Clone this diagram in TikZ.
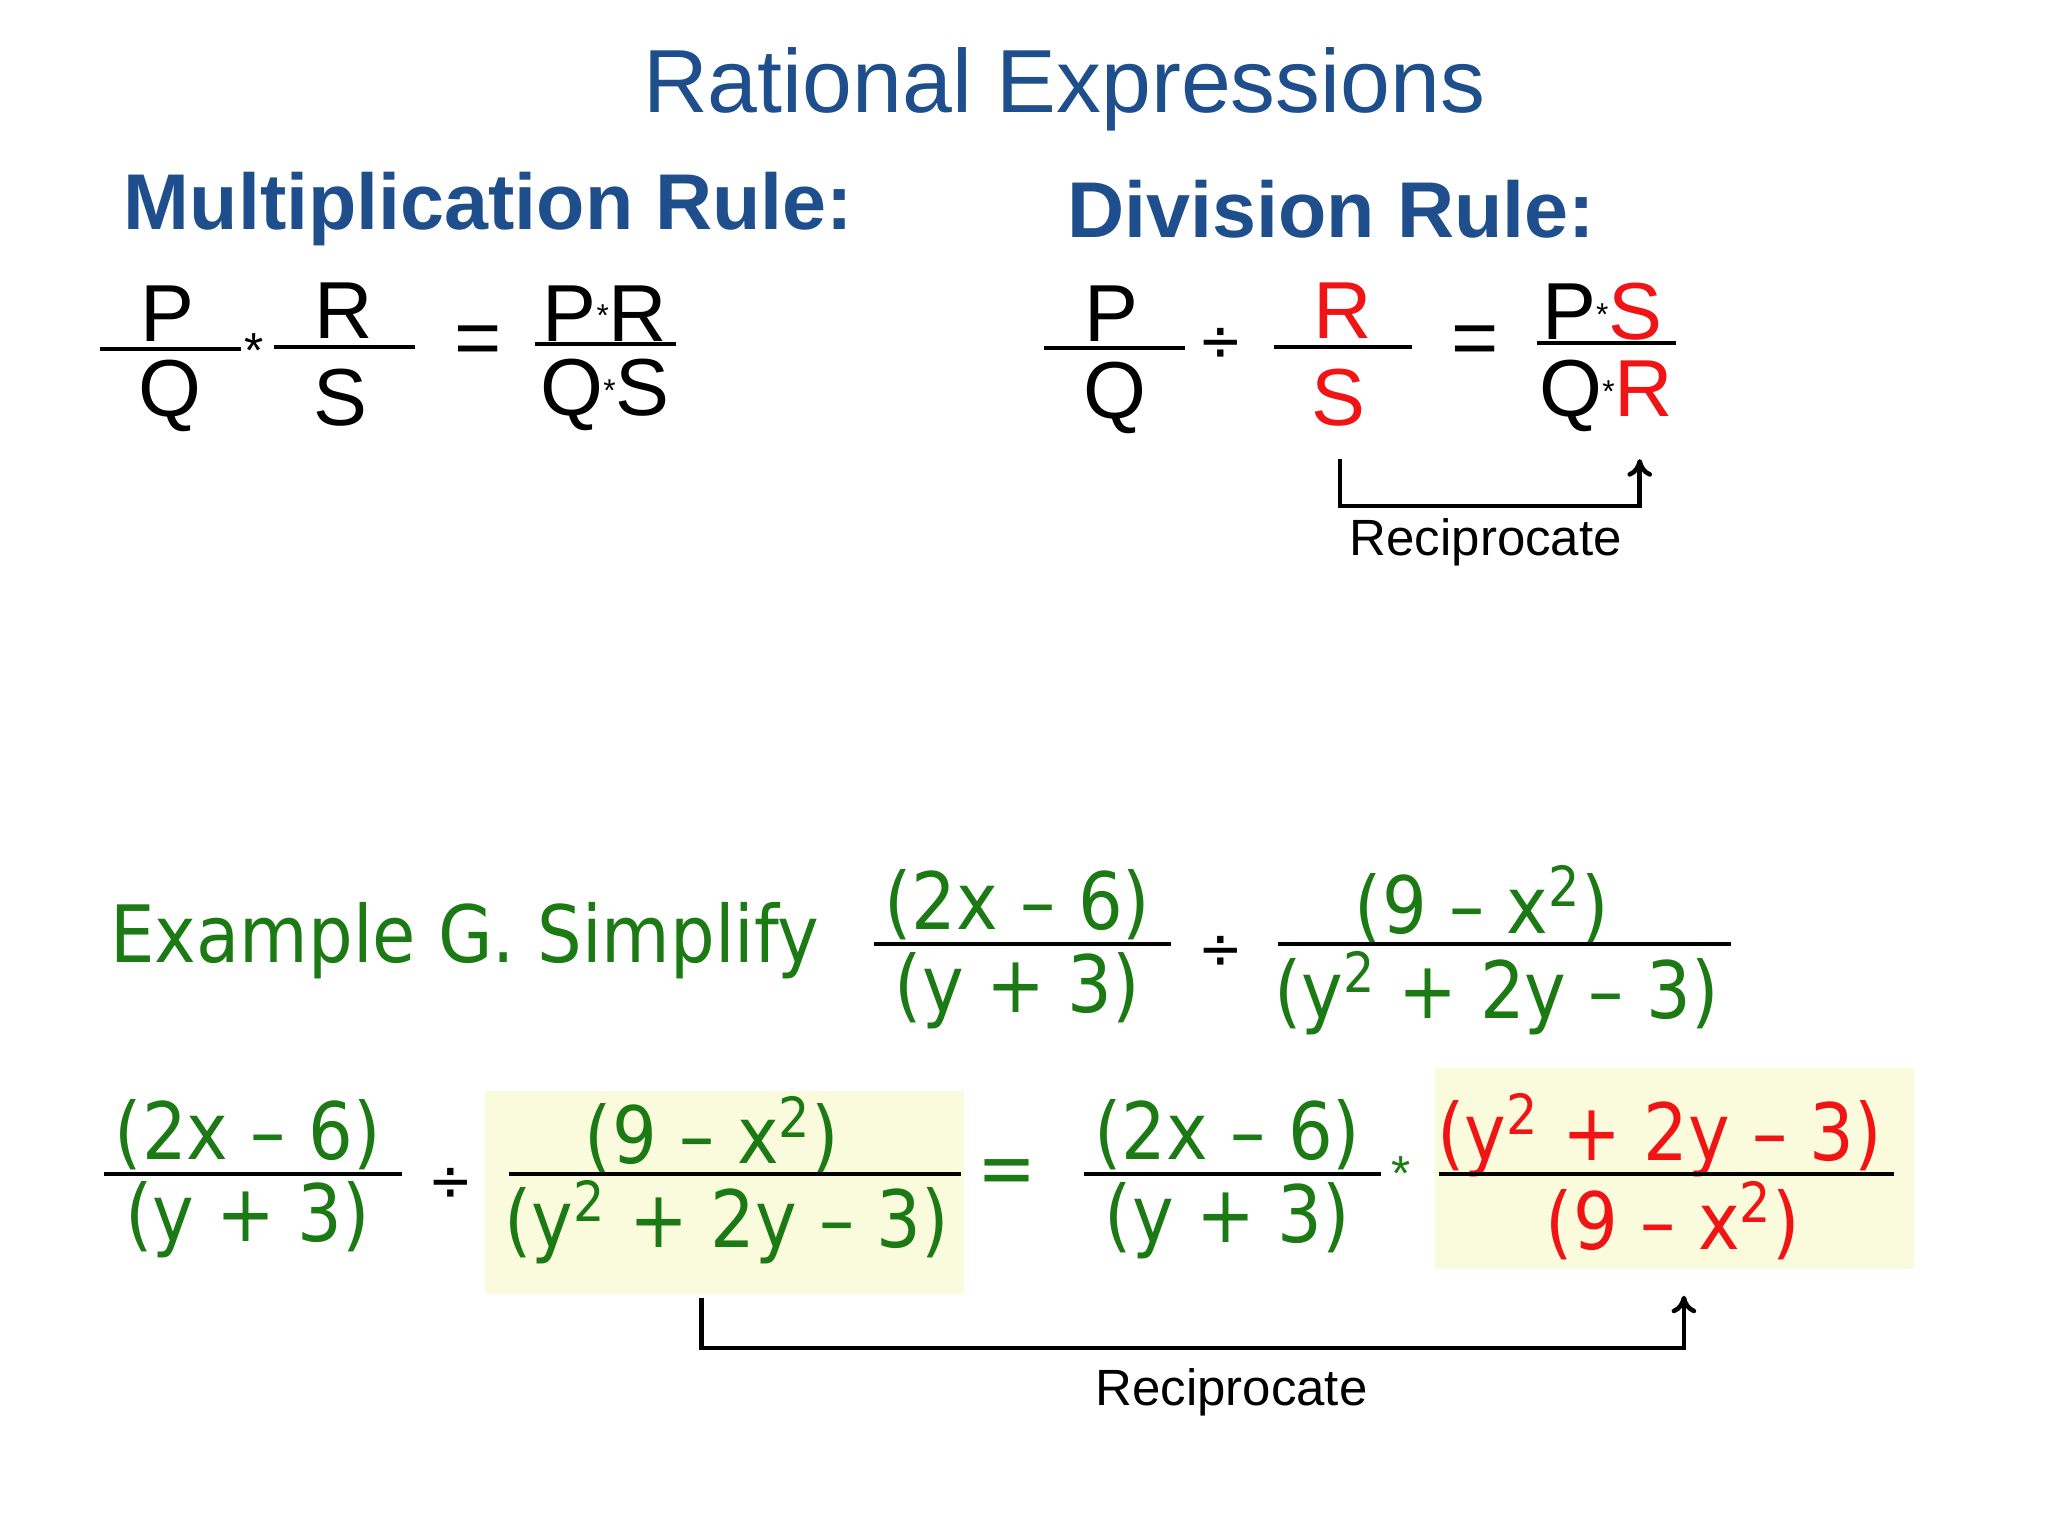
\documentclass[tikz,border=0pt]{standalone}
\usepackage{fontspec}
\setmainfont{Liberation Sans}
\newfontfamily\dvs[FakeStretch=0.89]{DejaVu Sans}
\usetikzlibrary{arrows.meta}
\definecolor{ttl}{HTML}{1F4E8C}
\definecolor{grn}{HTML}{1C7A14}
\definecolor{rd}{HTML}{F01414}
\definecolor{hl}{HTML}{FAFADC}
\tikzset{
  ttlf/.style={text=ttl,font=\fontsize{25.5}{30}\selectfont,inner sep=0pt},
  rulef/.style={text=ttl,font=\fontsize{22.5}{28}\selectfont\bfseries,inner sep=0pt,anchor=west},
  let/.style={font=\fontsize{23}{28}\selectfont,inner sep=0pt},
  ex/.style={font=\fontsize{22.5}{28}\selectfont\dvs,text=grn,inner sep=0pt},
  exr/.style={ex,text=rd},
  fl/.style={line width=1.2pt},
  br/.style={line width=1.3pt,-{To[length=5pt,width=7pt]}},
  rec/.style={font=\fontsize{14.5}{18}\selectfont,inner sep=0pt},
  hlbox/.style={fill=hl,draw=none}
}
\newcommand{\sq}{\textsuperscript{2}}
\begin{document}
\begin{tikzpicture}[x=0.013386cm,y=-0.013386cm]
\useasboundingbox[fill=white] (0,0) rectangle (1530,1147.5);
\node[ttlf] (title) at (795,67) {Rational Expressions};
\node[rulef] (mr) at (92,156) {Multiplication Rule:};
\node[rulef] (dr) at (797,156) {Division Rule:};
% multiplication
\node[let] (p1) at (125,234) {P};
\draw[fl] (75,261) coordinate (a1) -- (180,261) coordinate (a2);
\node[let] (q1) at (127,296) {Q};
\node[let,font=\fontsize{14}{16}\selectfont] (st1) at (190,262) {*};
\node[let] (r1) at (257,232) {R};
\draw[fl] (205,259) coordinate (b1) -- (310,259) coordinate (b2);
\node[let] (s1) at (254,297) {S};
\node[let] (eq1) at (357,258) {=};
\node[let] (pr) at (452,234) {P\raisebox{4pt}{\fontsize{9}{9}\selectfont*}R};
\draw[fl] (400,257) coordinate (c1) -- (505,257) coordinate (c2);
\node[let] (qs) at (452,295) {Q\raisebox{4pt}{\fontsize{9}{9}\selectfont*}S};
% division
\node[let] (p2) at (830,234) {P};
\draw[fl] (780,260) coordinate (d1) -- (885,260) coordinate (d2);
\node[let] (q2) at (833,297) {Q};
\node[let,font=\fontsize{17}{20}\selectfont\dvs] (dv1) at (912,258) {÷};
\node[let,text=rd] (r2) at (1003,232) {R};
\draw[fl] (952,259) coordinate (e1) -- (1055,259) coordinate (e2);
\node[let,text=rd] (s2) at (1000,297) {S};
\node[let] (eq2) at (1102,258) {=};
\node[let] (ps) at (1197,233) {P\raisebox{4pt}{\fontsize{9}{9}\selectfont*}\textcolor{rd}{S}};
\draw[fl] (1148,256) coordinate (f1) -- (1252,256) coordinate (f2);
\node[let] (qr) at (1200,296) {Q\raisebox{4pt}{\fontsize{9}{9}\selectfont*}\textcolor{rd}{R}};
\coordinate (g1) at (1001,343);
\coordinate (g2) at (1225,343);
\draw[br] (g1) -- (1001,378) -- (1225,378) -- (g2);
\node[rec] (rc1) at (1110,405) {Reciprocate};
% example
\node[ex,anchor=west] (exg) at (82,703) {Example G. Simplify};
\node[ex] (n1) at (760,676) {(2x – 6)};
\draw[fl] (653,705) coordinate (h1) -- (875,705) coordinate (h2);
\node[ex] (m1) at (760,740) {(y + 3)};
\node[ex,font=\fontsize{17}{20}\selectfont\dvs,text=black] (dv2) at (912,712) {÷};
\node[ex] (n2) at (1107,676) {(9 – x\sq)};
\draw[fl] (955,705) coordinate (i1) -- (1293,705) coordinate (i2);
\node[ex] (m2) at (1118,742) {(y\sq{} + 2y – 3)};
% row 2
\fill[hlbox] (362,815) rectangle (720,967);
\fill[hlbox] (1072,798) rectangle (1430,948);
\node[ex] (n3) at (185,848) {(2x – 6)};
\draw[fl] (78,877) coordinate (j1) -- (300,877) coordinate (j2);
\node[ex] (m3) at (185,911) {(y + 3)};
\node[ex,font=\fontsize{17}{20}\selectfont\dvs,text=black] (dv3) at (337,885) {÷};
\node[ex] (n4) at (532,848) {(9 – x\sq)};
\draw[fl] (380,877) coordinate (k1) -- (718,877) coordinate (k2);
\node[ex] (m4) at (543,913) {(y\sq{} + 2y – 3)};
\node[ex] (eq3) at (752,880) {=};
\node[ex] (n5) at (917,848) {(2x – 6)};
\draw[fl] (810,877) coordinate (l1) -- (1032,877) coordinate (l2);
\node[ex] (m5) at (917,912) {(y + 3)};
\node[ex,font=\fontsize{14}{16}\selectfont] (st2) at (1047,877) {*};
\node[exr] (n6) at (1240,848) {(y\sq{} + 2y – 3)};
\draw[fl] (1075,877) coordinate (o1) -- (1415,877) coordinate (o2);
\node[exr] (m6) at (1250,912) {(9 – x\sq)};
\coordinate (t1) at (524,970);
\coordinate (t2) at (1258,968);
\draw[br] (t1) -- (524,1007) -- (1258,1007) -- (t2);
\node[rec] (rc2) at (920,1040) {Reciprocate};
\end{tikzpicture}
\end{document}
